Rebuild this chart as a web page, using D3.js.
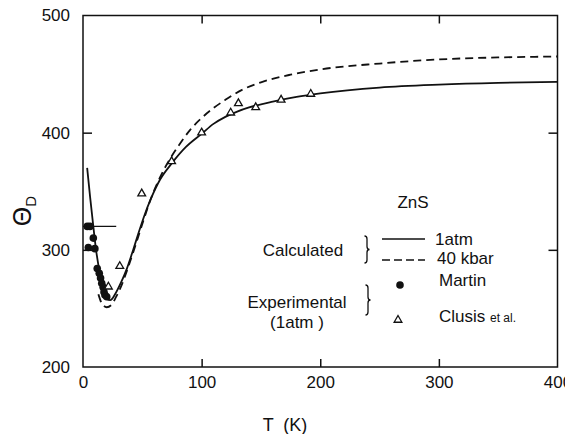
<!DOCTYPE html>
<html>
<head>
<meta charset="utf-8">
<script src="https://cdn.jsdelivr.net/npm/d3@7"></script>
<style>
body { margin: 0; background: #fff; }
svg text { font-family: "Liberation Sans", "DejaVu Sans", sans-serif; fill: #111; }
.frame { fill: none; stroke: #111; stroke-width: 1.5px; }
.axis path { display: none; }
.axis line { stroke: #111; stroke-width: 1.5px; }
.axis text { font-size: 17px; }
.calc { fill: none; stroke: #111; stroke-width: 1.8px; }
.tri { fill: #fff; stroke: #111; stroke-width: 1.3px; }
.brace { fill: none; stroke: #111; stroke-width: 1.3px; }
</style>
</head>
<body>
<svg width="565" height="434"></svg>
<script>
// calculated Debye temperature, 1 atm (solid)
var atmT  = [3.5, 6, 8.7, 11, 14, 17, 20, 23, 27, 32, 37, 42, 47, 52, 57, 65, 75, 87, 100, 110, 120, 130, 140, 160, 180, 200, 250, 300, 350, 400];
var atmTh = [370, 345, 320, 300, 281, 266, 258, 257, 262, 272, 284, 299, 315, 330, 343, 360, 374, 388, 399, 407.5, 413.5, 418, 421.5, 426.5, 430.5, 433.5, 438.5, 441, 442.5, 443.3];

// calculated, 40 kbar (dashed)
var kbarT  = [13, 16, 20, 24, 28, 33, 38, 44, 50, 57, 65, 73, 82, 90, 100, 110, 120, 135, 150, 175, 200, 250, 300, 350, 400];
var kbarTh = [262, 254, 251, 253, 260, 271, 285, 303, 322, 343, 362, 377, 391, 402, 412.5, 421, 428, 437, 443, 449.5, 454, 459, 462.5, 464.2, 465];

// Martin (filled circles)
var martinT  = [3.6, 5.9, 8.7, 4.5, 10, 12, 13.7, 14.8, 15.8, 17, 17.7, 18.5, 20];
var martinTh = [320, 320, 310, 302, 301, 284, 280, 276, 271.5, 268, 264, 261.5, 260];
var martinBar = [0, 28, 320]; // T from, T to, Theta

// Clusis et al. (open triangles)
var clusisT  = [21.4, 31, 49.5, 74.7, 100, 124.5, 131, 145.6, 167, 192];
var clusisTh = [268.5, 286, 348, 375.5, 400, 417, 425, 421.6, 428, 433];

var xTicks = [0, 100, 200, 300, 400];
var yTicks = [200, 300, 400, 500];

var svg = d3.select("svg");
var pL = 83, pR = 557.5, pT = 15.5, pB = 367;

var x = d3.scaleLinear().domain([0, 400]).range([pL, pR]);
var y = d3.scaleLinear().domain([200, 500]).range([pB, pT]);

svg.append("rect").attr("class", "frame")
  .attr("x", pL).attr("y", pT)
  .attr("width", pR - pL).attr("height", pB - pT);

// axes, ticks point inward
var bx = svg.append("g").attr("class", "axis")
  .attr("transform", "translate(0," + pB + ")")
  .call(d3.axisBottom(x).tickValues(xTicks).tickSize(-8).tickPadding(9));
var ly = svg.append("g").attr("class", "axis")
  .attr("transform", "translate(" + pL + ",0)")
  .call(d3.axisLeft(y).tickValues(yTicks).tickSize(-9).tickPadding(13));
svg.append("g").attr("class", "axis")
  .attr("transform", "translate(0," + pT + ")")
  .call(d3.axisTop(x).tickValues([100, 200, 300]).tickSize(-8).tickFormat(""));
svg.append("g").attr("class", "axis")
  .attr("transform", "translate(" + pR + ",0)")
  .call(d3.axisRight(y).tickValues([300, 400]).tickSize(-9).tickFormat(""));
bx.selectAll(".tick line").filter(function(d) { return d == 0 || d == 400; }).remove();
ly.selectAll(".tick line").filter(function(d) { return d == 200 || d == 500; }).remove();

var line = d3.line().curve(d3.curveMonotoneX)
  .x(function(d) { return x(d[0]); })
  .y(function(d) { return y(d[1]); });

svg.append("path").attr("class", "calc")
  .attr("d", line(d3.zip(atmT, atmTh)));
svg.append("path").attr("class", "calc")
  .attr("stroke-dasharray", "8,5")
  .attr("d", line(d3.zip(kbarT, kbarTh)));

svg.append("line")
  .attr("x1", x(martinBar[0])).attr("x2", x(martinBar[1]))
  .attr("y1", y(martinBar[2])).attr("y2", y(martinBar[2]))
  .attr("stroke", "#111").attr("stroke-width", 1.3);

svg.selectAll(".martin").data(d3.zip(martinT, martinTh)).enter()
  .append("circle").attr("class", "martin")
  .attr("cx", function(d) { return x(d[0]); })
  .attr("cy", function(d) { return y(d[1]); })
  .attr("r", 3.8).attr("fill", "#111");

var tri = d3.symbol().type(d3.symbolTriangle).size(26);
svg.selectAll(".tri").data(d3.zip(clusisT, clusisTh)).enter()
  .append("path").attr("class", "tri")
  .attr("transform", function(d) { return "translate(" + x(d[0]) + "," + y(d[1]) + ")"; })
  .attr("d", tri);

// axis titles
svg.append("text")
  .attr("x", 285).attr("y", 431)
  .attr("text-anchor", "middle").attr("font-size", 18)
  .attr("xml:space", "preserve")
  .text("T  (K)");

var yt = svg.append("text")
  .attr("transform", "translate(31,211) rotate(-90)")
  .attr("text-anchor", "middle");
yt.append("tspan").attr("font-size", 25).text("Θ");
yt.append("tspan").attr("font-size", 15).attr("baseline-shift", "-30%").text("D");

// curly brace "}" as a thin path
function brace(cx, y0, y1) {
  var p = d3.path(), m = (y0 + y1) / 2, w = 2.5;
  p.moveTo(cx - w, y0);
  p.quadraticCurveTo(cx, y0, cx, y0 + 3);
  p.lineTo(cx, m - 3);
  p.quadraticCurveTo(cx, m, cx + w, m);
  p.quadraticCurveTo(cx, m, cx, m + 3);
  p.lineTo(cx, y1 - 3);
  p.quadraticCurveTo(cx, y1, cx - w, y1);
  return p.toString();
}

// legend
var lg = svg.append("g").attr("font-size", 17);
lg.append("text").attr("x", 413).attr("y", 208).attr("text-anchor", "middle").text("ZnS");
lg.append("text").attr("x", 303).attr("y", 256).attr("text-anchor", "middle").text("Calculated");
lg.append("path").attr("class", "brace").attr("d", brace(367, 236, 263));
lg.append("line").attr("x1", 382).attr("x2", 425).attr("y1", 239).attr("y2", 239)
  .attr("stroke", "#111").attr("stroke-width", 1.6);
lg.append("line").attr("x1", 382).attr("x2", 425).attr("y1", 260).attr("y2", 260)
  .attr("stroke", "#111").attr("stroke-width", 1.6).attr("stroke-dasharray", "8,4");
lg.append("text").attr("x", 435).attr("y", 245).text("1atm");
lg.append("text").attr("x", 437).attr("y", 264).text("40 kbar");

lg.append("text").attr("x", 297).attr("y", 308).attr("text-anchor", "middle").text("Experimental");
lg.append("text").attr("x", 297).attr("y", 328).attr("text-anchor", "middle").text("(1atm )");
lg.append("path").attr("class", "brace").attr("d", brace(368, 285, 315));
lg.append("circle").attr("cx", 400).attr("cy", 285).attr("r", 3.8).attr("fill", "#111");
lg.append("path").attr("class", "tri").attr("transform", "translate(398,320)").attr("d", tri);
lg.append("text").attr("x", 439).attr("y", 286).text("Martin");
var cl = lg.append("text").attr("x", 439).attr("y", 322).text("Clusis ");
cl.append("tspan").attr("font-size", 12).text("et al.");
</script>
</body>
</html>
